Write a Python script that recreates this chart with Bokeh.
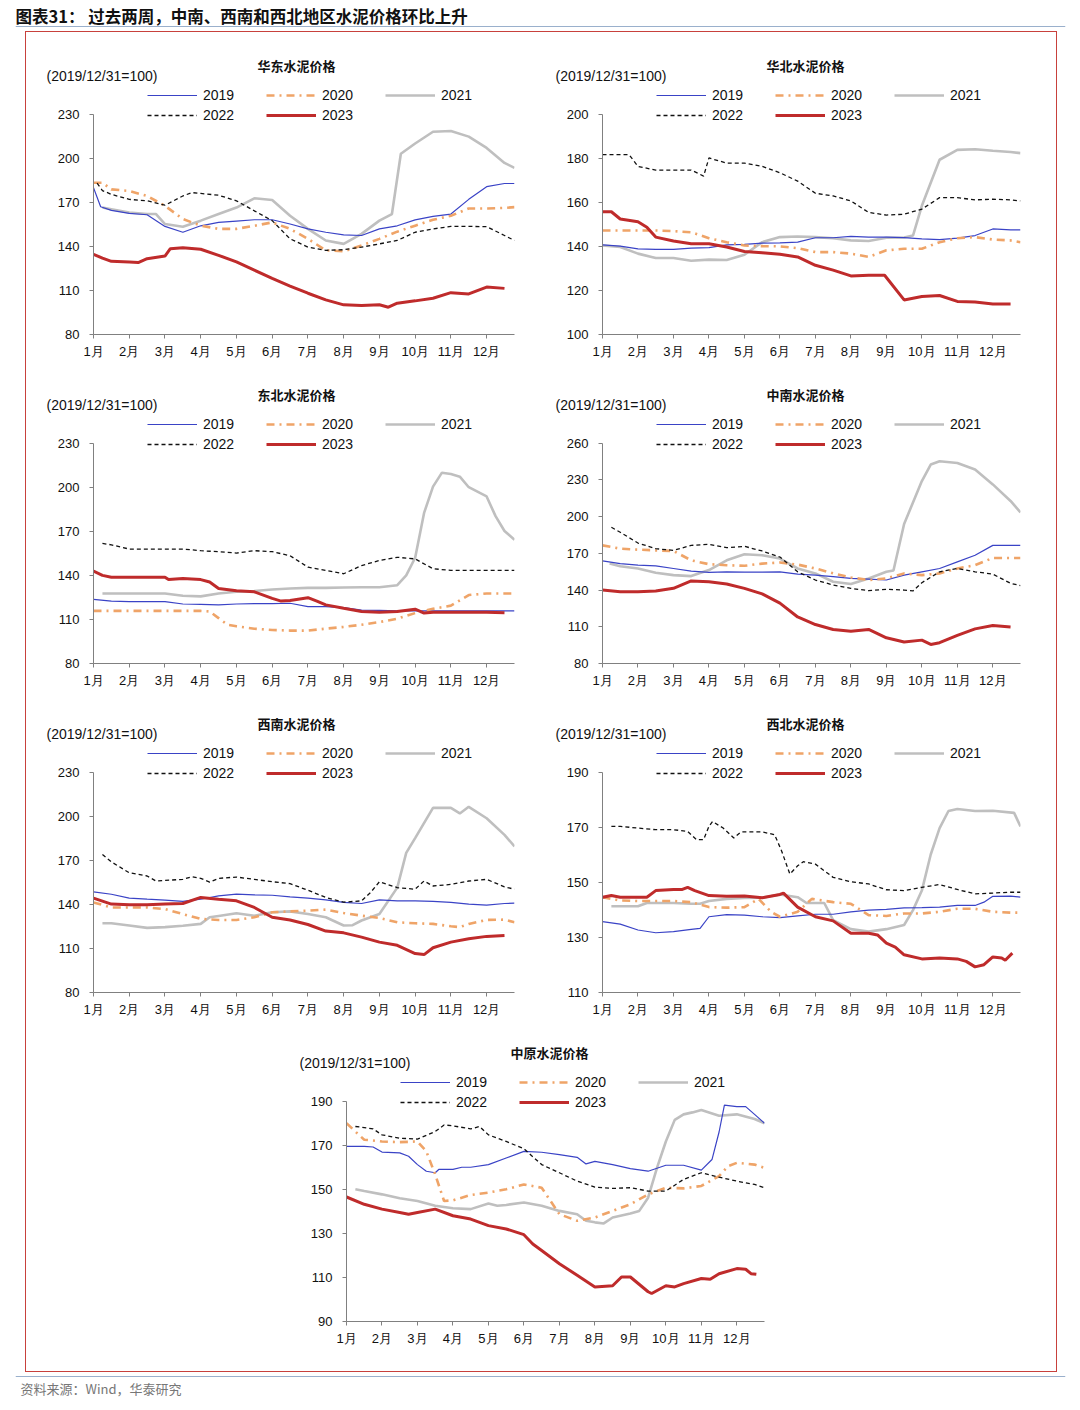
from bokeh.plotting import figure
from bokeh.models import Range1d, FixedTicker, Label, Legend, LegendItem, Spacer, Span
from bokeh.layouts import column, row
from bokeh.embed import file_html
from bokeh.resources import INLINE

# ---------------- data (x = month position, value = index 2019/12/31=100) ----------------
YEARS = ["2019", "2020", "2021", "2022", "2023"]
MONTH_TICKS = [1, 2, 3, 4, 5, 6, 7, 8, 9, 10, 11, 12]
MONTH_LABELS = ["1月", "2月", "3月", "4月", "5月", "6月", "7月", "8月", "9月", "10月", "11月", "12月"]
UNIT_TEXT = "(2019/12/31=100)"
HEADER_TEXT = "图表31： 过去两周，中南、西南和西北地区水泥价格环比上升"
SOURCE_TEXT = "资料来源：Wind，华泰研究"

# 华东
HD_2019 = [(1.0,180),(1.2,167),(1.5,164.5),(2.0,162.4),(2.5,161.5),(3.0,153.6),(3.5,149.6),(4.0,154),(4.5,156.3),(5.0,157.2),(5.5,158.1),(6.0,158.1),(6.5,155.2),(7.0,151.9),(7.5,149.6),(8.0,147.8),(8.5,147.4),(9.0,151.9),(9.5,154),(10.0,158),(10.5,160.4),(11.0,162),(11.5,172),(12.0,180.6),(12.5,182.8),(12.78,182.8)]
HD_2020 = [(1.0,183.3),(1.25,183.3),(1.5,178.8),(2.0,177.7),(2.5,174.3),(3.0,167.6),(3.5,158.6),(4.0,154.1),(4.5,151.9),(5.0,151.9),(5.5,154),(6.0,156.3),(6.5,151.9),(7.0,145.1),(7.5,137.3),(8.0,136.6),(8.5,140.6),(9.0,145.1),(9.5,150),(10.0,154.1),(10.5,158.1),(11.0,160.8),(11.5,165.8),(12.0,165.8),(12.5,166.2),(12.78,166.7)]
HD_2021 = [(1.25,166.4),(1.5,165.3),(2.0,163),(2.5,162),(2.75,162),(3.0,155.2),(3.5,153.4),(4.0,157.5),(4.5,162),(5.0,166.4),(5.5,172.7),(6.0,171.6),(6.5,160.8),(7.0,151.9),(7.5,144),(8.0,141.7),(8.5,148.5),(9.0,157.5),(9.35,162),(9.6,203),(10.0,210),(10.5,218),(11.0,218.5),(11.5,214.7),(12.0,207),(12.5,196.8),(12.78,193.4)]
HD_2022 = [(1.1,183),(1.25,178),(1.5,175.4),(2.0,172),(2.5,171),(3.0,168),(3.5,174.3),(3.75,176.6),(4.0,176),(4.5,174.8),(5.0,171),(5.5,164.2),(6.0,157.5),(6.5,145.1),(7.0,139.5),(7.5,137.3),(8.0,137.7),(8.5,139.5),(9.0,141.7),(9.5,144),(10.0,149.6),(10.5,151.9),(11.0,153.6),(11.5,153.6),(12.0,153.4),(12.5,147.4),(12.78,144)]
HD_2023 = [(1.0,134.6),(1.25,132),(1.5,129.8),(2.0,129.4),(2.25,129),(2.5,131.6),(3.0,133.4),(3.15,138.4),(3.5,139),(4.0,138),(4.5,133.9),(5.0,129.4),(5.5,123.8),(6.0,118.2),(6.5,113),(7.0,108.1),(7.5,103.6),(8.0,100.2),(8.5,99.8),(9.0,100.2),(9.25,98.6),(9.5,101.3),(10.0,102.9),(10.5,104.7),(11.0,108.5),(11.5,107.6),(12.0,112.3),(12.5,111.4)]

# 华北
HB_2019 = [(1.0,140.7),(1.5,140.1),(2.0,138.9),(2.5,138.6),(3.0,138.6),(3.5,139.2),(4.0,139.4),(4.5,140.7),(5.0,140.9),(5.5,141.5),(6.0,141.6),(6.5,141.9),(7.0,143.9),(7.5,143.9),(8.0,144.5),(8.5,144.2),(9.0,144.2),(9.5,144),(10.0,143.4),(10.5,143.1),(11.0,143.7),(11.5,144.9),(12.0,147.9),(12.5,147.5),(12.78,147.5)]
HB_2020 = [(1.0,147.2),(1.5,147.2),(2.0,147.2),(2.5,147.2),(3.0,146.9),(3.5,146.4),(4.0,143.7),(4.5,141.9),(5.0,140.4),(5.5,140.1),(6.0,140),(6.5,139.2),(7.0,137.4),(7.5,137.4),(8.0,136.7),(8.5,135.2),(9.0,138.2),(9.5,138.9),(10.0,138.9),(10.5,141.9),(11.0,143.7),(11.5,144.2),(12.0,143.1),(12.5,142.7),(12.78,141.9)]
HB_2021 = [(1.0,140.4),(1.5,139.7),(2.0,136.7),(2.5,134.7),(3.0,134.7),(3.5,133.5),(4.0,134),(4.5,133.8),(5.0,136.2),(5.5,141.9),(6.0,144.2),(6.5,144.5),(7.0,144.2),(7.5,143.7),(8.0,142.7),(8.5,142.4),(9.0,143.9),(9.5,144),(9.75,144.9),(10.0,158.4),(10.5,179.3),(11.0,183.8),(11.5,184.1),(12.0,183.4),(12.5,182.8),(12.78,182.3)]
HB_2022 = [(1.0,181.6),(1.5,181.6),(1.75,181.6),(2.0,176.3),(2.5,174.6),(3.0,174.6),(3.5,174.6),(3.85,171.9),(4.0,180.1),(4.5,177.8),(5.0,177.8),(5.5,176.3),(6.0,173.4),(6.5,169.6),(7.0,164.1),(7.5,162.9),(8.0,160.6),(8.5,155.4),(9.0,154.2),(9.5,154.6),(10.0,156.9),(10.5,162.1),(11.0,162.1),(11.5,161.1),(12.0,161.4),(12.5,161.1),(12.78,160.6)]
HB_2023 = [(1.0,155.7),(1.25,155.7),(1.5,152.4),(2.0,151.2),(2.25,148.7),(2.5,144.2),(3.0,142.4),(3.5,141.2),(4.0,141.2),(4.5,139.7),(5.0,137.7),(5.5,137.1),(6.0,136.4),(6.5,135.2),(7.0,131.4),(7.5,129.2),(8.0,126.6),(8.5,126.9),(8.95,126.9),(9.5,115.7),(10.0,117.2),(10.5,117.7),(11.0,115),(11.5,114.7),(12.0,113.8),(12.5,113.8)]

# 东北
DB_2019 = [(1.0,123.7),(1.5,122.5),(2.0,122.1),(2.5,122.1),(3.0,122.1),(3.5,120.5),(4.0,120.3),(4.5,119.9),(5.0,120.5),(5.5,120.8),(6.0,120.8),(6.5,121),(7.0,118.7),(7.5,118.7),(8.0,118.1),(8.5,116.3),(9.0,116.1),(9.5,115.8),(10.0,115.8),(11.0,115.8),(12.0,115.8),(12.78,115.8)]
DB_2020 = [(1.0,115.8),(2.0,115.8),(3.0,115.8),(4.0,115.8),(4.25,115.4),(4.5,110.9),(4.75,106.4),(5.0,105.3),(5.5,103.7),(6.0,102.8),(6.5,102.4),(7.0,102.4),(7.5,103.7),(8.0,104.9),(8.5,106.4),(9.0,108.2),(9.5,110.5),(10.0,114.3),(10.5,117.2),(11.0,119.4),(11.5,126.6),(12.0,127.7),(12.5,127.7),(12.78,127.7)]
DB_2021 = [(1.25,127.7),(2.0,127.7),(3.0,127.7),(3.5,126.1),(4.0,125.7),(4.5,127.7),(5.0,128.8),(5.5,129.3),(6.0,130.4),(6.5,131.1),(7.0,131.5),(7.5,131.5),(8.0,131.7),(8.5,131.9),(9.0,131.9),(9.5,133.3),(9.75,140),(10.0,152),(10.25,182.5),(10.5,200.4),(10.75,209.9),(11.0,209),(11.25,207.2),(11.5,200),(12.0,193.7),(12.25,180.3),(12.5,170.2),(12.78,164.2)]
DB_2022 = [(1.25,161.7),(1.5,160.8),(2.0,157.9),(3.0,157.9),(3.5,157.9),(4.0,156.8),(4.5,156.1),(5.0,155.2),(5.5,156.8),(6.0,156.1),(6.5,153.4),(7.0,145.6),(7.5,143.4),(8.0,141.1),(8.5,146.7),(9.0,150.1),(9.5,152.3),(10.0,151.2),(10.5,144.5),(11.0,143.4),(12.0,143.4),(12.78,143.4)]
DB_2023 = [(1.0,142.9),(1.25,140),(1.5,138.7),(2.0,138.7),(3.0,138.7),(3.1,137.1),(3.5,137.8),(4.0,137.1),(4.25,135.5),(4.5,131.1),(5.0,129.5),(5.5,128.8),(6.0,124.3),(6.25,122.5),(6.5,122.9),(7.0,124.8),(7.25,122.5),(7.5,119.9),(8.0,117.6),(8.5,115.4),(9.0,114.9),(9.5,115.4),(10.0,117),(10.25,114.3),(10.5,114.9),(11.0,114.9),(12.0,114.9),(12.5,114.5)]

# 中南
ZN_2019 = [(1.0,163.8),(1.5,161.6),(2.0,160.3),(2.5,159.8),(3.0,157.6),(3.5,155.4),(4.0,154.4),(4.5,154.9),(5.0,154.6),(5.5,154.6),(6.0,154.9),(6.5,153),(7.0,152.2),(7.5,150.9),(8.0,149.5),(8.5,149),(9.0,148.2),(9.5,152.2),(10.0,154.9),(10.5,157.6),(11.0,163),(11.5,168.4),(12.0,176.5),(12.5,176.5),(12.78,176.5)]
ZN_2020 = [(1.0,176.5),(1.5,173.8),(2.0,173),(2.5,172.4),(3.0,171.9),(3.5,164.3),(4.0,161.1),(4.5,160.3),(5.0,159.8),(5.5,161.6),(6.0,162.5),(6.5,160.8),(7.0,157.6),(7.5,153.6),(8.0,150.3),(8.5,148.2),(9.0,149.5),(9.5,153.6),(10.0,152.2),(10.5,153.6),(11.0,157.6),(11.5,160.3),(12.0,166.2),(12.5,166.2),(12.78,166.2)]
ZN_2021 = [(1.2,161.6),(1.5,159.5),(2.0,157.6),(2.5,154.1),(3.0,152.2),(3.5,151.4),(4.0,156.3),(4.5,164.3),(5.0,169.2),(5.5,168.4),(6.0,165.7),(6.5,157.6),(7.0,153.6),(7.5,146.8),(8.0,144.9),(8.5,149.5),(9.0,154.9),(9.2,156),(9.5,194),(10.0,229),(10.25,242.5),(10.5,245.2),(11.0,243.8),(11.5,238.4),(12.0,226.3),(12.5,212.8),(12.78,203.4)]
ZN_2022 = [(1.25,191.3),(1.5,187.2),(2.0,178.4),(2.5,173.8),(3.0,172.4),(3.5,176.5),(4.0,177.3),(4.5,174.6),(5.0,175.7),(5.5,171.9),(6.0,167),(6.5,154.9),(7.0,148.2),(7.5,144.1),(8.0,141.4),(8.5,139.5),(9.0,140.6),(9.5,140),(9.75,139.3),(10.0,146),(10.5,154.9),(11.0,157.6),(11.5,154.9),(12.0,153),(12.5,145.5),(12.78,143.6)]
ZN_2023 = [(1.0,140),(1.5,138.7),(2.0,138.7),(2.5,139.3),(3.0,141.4),(3.5,147.4),(4.0,146.8),(4.5,145),(5.0,141.4),(5.5,136.9),(6.0,129.3),(6.5,118),(7.0,111.8),(7.5,107.8),(8.0,106.4),(8.5,107.8),(9.0,101),(9.5,97.5),(10.0,99.1),(10.25,95.6),(10.5,97),(11.0,102.9),(11.5,108.3),(12.0,111),(12.5,109.9)]

# 西南
XN_2019 = [(1.0,148.5),(1.5,146.9),(2.0,144.2),(2.5,143.5),(3.0,142.9),(3.5,142),(4.0,143.5),(4.5,145.8),(5.0,146.9),(5.5,146.5),(6.0,146.2),(6.5,145.1),(7.0,144.2),(7.5,143.1),(8.0,141.3),(8.5,140.6),(9.0,143.1),(9.5,142.4),(10.0,142.4),(10.5,142),(11.0,141.3),(11.5,140.2),(12.0,139.5),(12.5,140.6),(12.78,140.8)]
XN_2020 = [(1.0,141.3),(1.5,137.9),(2.0,137.9),(2.5,137.9),(3.0,136.8),(3.5,133.4),(4.0,130.1),(4.5,129.4),(5.0,129.4),(5.5,131.2),(6.0,134.6),(6.5,135.2),(7.0,135.7),(7.5,136.4),(8.0,134.1),(8.5,132.3),(9.0,130.7),(9.5,127.8),(10.0,127.1),(10.5,126.7),(11.0,125.1),(11.25,124.5),(11.5,126.7),(12.0,129.4),(12.5,129.6),(12.78,127.8)]
XN_2021 = [(1.25,127.1),(1.5,127.1),(2.0,125.6),(2.5,124),(3.0,124.5),(3.5,125.4),(4.0,126.7),(4.25,131.2),(4.5,132.1),(5.0,133.9),(5.5,132.3),(6.0,134.6),(6.5,135.2),(7.0,133.4),(7.5,131.2),(8.0,125.6),(8.25,125.8),(8.5,129),(9.0,133.4),(9.5,151.4),(9.75,175),(10.0,185.1),(10.5,205.7),(11.0,205.7),(11.25,201.9),(11.5,206.4),(12.0,198.6),(12.5,187.3),(12.78,179.5)]
XN_2022 = [(1.25,173.9),(1.5,168.9),(2.0,161.5),(2.5,159.3),(2.75,155.9),(3.0,156.3),(3.5,157),(3.75,158.8),(4.0,157.7),(4.25,155.2),(4.5,157.7),(5.0,158.6),(5.5,157),(6.0,155.4),(6.5,154.1),(7.0,149.6),(7.5,144.7),(8.0,141.5),(8.5,142.4),(8.75,148),(9.0,155.4),(9.5,151.4),(10.0,150.3),(10.25,155.9),(10.5,152.5),(11.0,153.6),(11.5,155.9),(12.0,157),(12.5,151.9),(12.78,150.3)]
XN_2023 = [(1.0,144.2),(1.5,140.2),(2.0,139.7),(2.5,139.7),(3.0,140.2),(3.5,140.6),(4.0,144.7),(4.5,143.5),(5.0,142.4),(5.5,137.9),(6.0,131.2),(6.5,129.4),(7.0,126.3),(7.5,121.8),(8.0,120.6),(8.5,117.7),(9.0,114.3),(9.5,112.1),(10.0,106.5),(10.25,105.8),(10.5,110.5),(11.0,114.3),(11.5,116.6),(12.0,118.2),(12.5,118.8)]

# 西北
XB_2019 = [(1.0,135.7),(1.5,134.8),(2.0,132.7),(2.5,131.7),(3.0,132.1),(3.5,132.9),(3.75,133.3),(4.0,137.5),(4.5,138.3),(5.0,138.1),(5.5,137.5),(6.0,137.2),(6.5,137.8),(7.0,138.4),(7.5,138.4),(8.0,139.3),(8.5,139.9),(9.0,140.2),(9.5,140.7),(10.0,140.8),(10.5,141),(11.0,141.6),(11.5,141.6),(11.75,142.8),(12.0,144.9),(12.5,145),(12.78,144.6)]
XB_2020 = [(1.0,144.6),(1.5,143.4),(2.0,143.2),(3.0,143.2),(3.5,142.8),(4.0,141),(4.5,140.8),(5.0,141),(5.4,144),(5.75,139.3),(6.0,137.5),(6.5,139.3),(6.9,144),(7.5,142.8),(8.0,142.2),(8.5,138.1),(9.0,137.8),(9.5,138.7),(10.0,138.7),(10.5,139.3),(11.0,140.4),(11.5,140.4),(12.0,139.3),(12.5,139),(12.78,139)]
XB_2021 = [(1.25,141.3),(2.0,141.3),(2.25,142.5),(3.0,142.5),(3.5,142.2),(3.75,142.2),(4.0,143.2),(4.5,144),(5.0,144.3),(5.5,144.4),(6.0,145.6),(6.5,144.6),(6.75,142.5),(7.25,142.5),(7.5,136.3),(8.0,133),(8.5,132.1),(9.0,133),(9.5,134.5),(9.75,139.9),(10.0,147),(10.25,160.1),(10.5,169.7),(10.75,175.9),(11.0,176.6),(11.5,175.9),(12.0,176),(12.6,175.2),(12.78,170.3)]
XB_2022 = [(1.25,170.3),(1.5,170.3),(2.0,169.7),(2.5,169.1),(3.0,169.1),(3.4,168.5),(3.65,165.5),(3.85,165.5),(4.0,170.3),(4.1,172.1),(4.4,169.7),(4.7,166.1),(4.9,168.3),(5.5,168.3),(5.85,167.3),(6.05,161.3),(6.28,153),(6.5,156),(6.66,157.5),(7.0,156.6),(7.5,151.8),(8.0,150.2),(8.5,149.4),(9.0,147.3),(9.5,147),(10.0,148.2),(10.5,149.2),(11.0,147.4),(11.5,145.8),(12.0,146.1),(12.5,146.4),(12.78,146.4)]
XB_2023 = [(1.0,144.6),(1.25,145.2),(1.5,144.6),(2.25,144.6),(2.5,147),(3.0,147.4),(3.25,147.4),(3.4,148.2),(3.6,147),(4.0,145.2),(4.5,144.9),(5.0,145),(5.5,144.4),(6.0,145.6),(6.1,146.1),(6.5,141),(7.0,137.5),(7.5,136),(8.0,131.5),(8.5,131.5),(8.75,130.9),(9.0,127.9),(9.25,126.5),(9.5,123.7),(10.0,122.2),(10.5,122.5),(11.0,122.2),(11.25,121.3),(11.5,119.3),(11.75,120.1),(12.0,122.9),(12.25,122.5),(12.35,121.7),(12.55,124.3)]

# 中原
ZY_2019 = [(1.0,169.5),(1.5,169.5),(1.75,169.2),(2.0,166.9),(2.5,166.5),(2.75,165),(3.0,161.2),(3.25,158.2),(3.5,157.5),(3.6,159),(4.0,159),(4.25,160),(4.5,160),(5.0,161.2),(5.5,164.2),(6.0,167.2),(6.5,166.8),(7.0,165.7),(7.5,164.5),(7.75,161.5),(8.0,162.7),(8.5,161.2),(9.0,159.4),(9.5,158.2),(10.0,160.9),(10.5,160.9),(11.0,158.7),(11.3,163.5),(11.5,176),(11.65,188.2),(12.0,187.5),(12.25,187.5),(12.5,184),(12.78,180)]
ZY_2020 = [(1.0,180),(1.25,176.2),(1.5,172.5),(2.0,171.7),(2.5,171.4),(3.0,171.7),(3.25,167.2),(3.5,156.7),(3.75,144.7),(4.0,145),(4.5,147.4),(5.0,148.5),(5.5,150),(6.0,152.2),(6.5,150.7),(7.0,138.7),(7.5,135.7),(8.0,137.2),(8.5,140.2),(9.0,143.2),(9.5,147.7),(10.0,150.7),(10.5,150.4),(11.0,151.5),(11.5,156),(11.75,160.5),(12.0,162),(12.5,161.2),(12.78,159.7)]
ZY_2021 = [(1.25,150),(1.5,149.2),(2.0,147.7),(2.5,145.9),(3.0,144.7),(3.5,142.5),(4.0,141.4),(4.5,141),(5.0,143.5),(5.25,142.5),(5.5,142.9),(6.0,144),(6.5,142.5),(7.0,140.2),(7.5,138.7),(7.75,135.7),(8.0,135),(8.25,134.5),(8.5,137.2),(9.0,139),(9.25,140.2),(9.5,146.2),(9.75,159.7),(10.0,171.7),(10.25,181.5),(10.5,184),(10.75,184.9),(11.0,186),(11.5,183.4),(12.0,184),(12.5,181.9),(12.78,180)]
ZY_2022 = [(1.25,178.5),(1.5,178),(1.75,177.4),(2.0,174.7),(2.5,173.2),(3.0,172.8),(3.5,176.2),(3.75,179.2),(4.0,178.8),(4.5,177.4),(4.75,178.5),(5.0,174.7),(5.5,171.7),(6.0,168.4),(6.5,161.2),(7.0,157.5),(7.5,153.7),(8.0,151),(8.5,150.4),(9.0,150.7),(9.5,149.2),(10.0,149.2),(10.5,154.5),(11.0,157.5),(11.5,155.5),(12.0,153.7),(12.5,152.2),(12.78,150.7)]
ZY_2023 = [(1.0,146.5),(1.5,143.2),(2.0,141),(2.5,139.5),(2.75,138.7),(3.0,139.5),(3.5,141),(4.0,138),(4.5,136.5),(5.0,133.5),(5.5,132),(6.0,129.4),(6.25,125.2),(6.5,122.2),(7.0,116.2),(7.5,111),(8.0,105.7),(8.5,106.2),(8.75,110.2),(9.0,110.2),(9.5,103.5),(9.6,102.7),(10.0,106.2),(10.25,105.7),(10.5,107.2),(11.0,109.5),(11.25,109.2),(11.5,111.7),(12.0,114),(12.25,113.7),(12.4,111.7),(12.55,111.4)]

REGION_TITLES = ["华东水泥价格", "华北水泥价格", "东北水泥价格", "中南水泥价格", "西南水泥价格", "西北水泥价格", "中原水泥价格"]
REGION_SERIES = [
    [HD_2019, HD_2020, HD_2021, HD_2022, HD_2023],
    [HB_2019, HB_2020, HB_2021, HB_2022, HB_2023],
    [DB_2019, DB_2020, DB_2021, DB_2022, DB_2023],
    [ZN_2019, ZN_2020, ZN_2021, ZN_2022, ZN_2023],
    [XN_2019, XN_2020, XN_2021, XN_2022, XN_2023],
    [XB_2019, XB_2020, XB_2021, XB_2022, XB_2023],
    [ZY_2019, ZY_2020, ZY_2021, ZY_2022, ZY_2023],
]
Y_RANGES = [(80, 230, 30), (100, 200, 20), (80, 230, 30), (80, 260, 30), (80, 230, 30), (110, 190, 20), (90, 190, 20)]

# ---------------- styles / geometry ----------------
STYLE = {
    "2019": dict(line_color="#3A43C6", line_width=1.2),
    "2020": dict(line_color="#EFA468", line_width=2.6, line_dash="8 5 2 5"),
    "2021": dict(line_color="#BFBFBF", line_width=2.6),
    "2022": dict(line_color="#111111", line_width=1.3, line_dash="4 3"),
    "2023": dict(line_color="#BF2B2B", line_width=3.0),
}
DRAW_ORDER = [2, 0, 1, 3, 4]
LATIN = "Liberation Sans"
CJK = "Noto Sans CJK SC"
AXIS_COLOR = "#808080"
TEXT_COLOR = "#111111"

DATA_H = 223      # px between lowest and highest y tick
EXT_PX = 30       # frame extension above the top tick (legend area)
BOTTOM_PX = 24    # x-axis labels area
STRIP_H = 52      # strip above each row holding titles + unit labels
CONTENT_W = 1030
LEFT_W, RIGHT_W = 514, 516
LEFT_ML, LEFT_MR = 67, 26
RIGHT_ML, RIGHT_MR = 62, 36
BOTTOM_ML, BOTTOM_MR = 320, 292


def make_panel(idx, width, ml, mr):
    y0, y1, step = Y_RANGES[idx]
    ext = EXT_PX * (y1 - y0) / DATA_H
    height = EXT_PX + DATA_H + BOTTOM_PX
    p = figure(width=width, height=height, x_range=Range1d(1, 12.78), y_range=Range1d(y0, y1 + ext),
               output_backend="svg", toolbar_location=None,
               min_border_left=ml, min_border_right=mr, min_border_top=0, min_border_bottom=BOTTOM_PX)
    p.outline_line_color = None
    p.grid.visible = False
    p.background_fill_color = "white"
    p.border_fill_color = "white"

    p.xaxis.ticker = FixedTicker(ticks=MONTH_TICKS)
    p.xaxis.major_label_overrides = {t: lab for t, lab in zip(MONTH_TICKS, MONTH_LABELS)}
    p.yaxis.ticker = FixedTicker(ticks=list(range(y0, y1 + 1, step)))
    p.yaxis.bounds = (y0, y1)
    for ax in (p.xaxis[0], p.yaxis[0]):
        ax.axis_line_color = AXIS_COLOR
        ax.major_tick_line_color = AXIS_COLOR
        ax.minor_tick_line_color = None
        ax.major_tick_in = 0
        ax.major_tick_out = 4
        ax.major_label_text_font = LATIN
        ax.major_label_text_font_size = "13px"
        ax.major_label_text_color = TEXT_COLOR
    p.xaxis.major_label_standoff = 5
    p.yaxis.major_label_standoff = 10

    series = REGION_SERIES[idx]
    renderers = {}
    for k in DRAW_ORDER:
        pts = series[k]
        xs = [a for a, _ in pts]
        ys = [b for _, b in pts]
        renderers[k] = p.line(xs, ys, **STYLE[YEARS[k]])

    frame_h = EXT_PX + DATA_H
    items = [LegendItem(label=YEARS[k], renderers=[renderers[k]]) for k in range(5)]
    legend = Legend(items=items, location=(54, frame_h - 44), orientation="horizontal", ncols=3,
                    glyph_width=50, glyph_height=20, label_height=20, label_width=63, label_standoff=6,
                    spacing=0, padding=0, margin=0, border_line_color=None, background_fill_alpha=0,
                    label_text_font=LATIN, label_text_font_size="14px", label_text_color=TEXT_COLOR)
    p.add_layout(legend)
    return p


def make_strip(entries, height=STRIP_H):
    s = figure(width=CONTENT_W, height=height, x_range=Range1d(0, CONTENT_W), y_range=Range1d(0, height),
               x_axis_type=None, y_axis_type=None, output_backend="svg", toolbar_location=None,
               min_border=0)
    s.outline_line_color = None
    s.grid.visible = False
    for frame_left, idx in entries:
        s.add_layout(Label(x=frame_left + 203, y=height - 33, text=REGION_TITLES[idx], text_align="center",
                           text_baseline="middle", text_font=CJK, text_font_size="13px",
                           text_font_style="bold", text_color=TEXT_COLOR))
        s.add_layout(Label(x=frame_left - 47, y=height - 43, text=UNIT_TEXT, text_align="left",
                           text_baseline="middle", text_font=LATIN, text_font_size="14px", text_color=TEXT_COLOR))
    return s


rows = []
for left_idx, right_idx in [(0, 1), (2, 3), (4, 5)]:
    rows.append(row(make_strip([(LEFT_ML, left_idx), (LEFT_W + RIGHT_ML, right_idx)])))
    rows.append(row(make_panel(left_idx, LEFT_W, LEFT_ML, LEFT_MR),
                    make_panel(right_idx, RIGHT_W, RIGHT_ML, RIGHT_MR)))
rows.append(row(make_strip([(BOTTOM_ML, 6)])))
rows.append(row(make_panel(6, CONTENT_W, BOTTOM_ML, BOTTOM_MR)))
rows.append(Spacer(height=23))

# header
header = figure(width=1064, height=31, x_range=Range1d(0, 1050), y_range=Range1d(0, 31),
                x_axis_type=None, y_axis_type=None, output_backend="svg", toolbar_location=None,
                min_border_left=7, min_border_right=7, min_border_top=0, min_border_bottom=0)
header.outline_line_color = None
header.grid.visible = False
header.add_layout(Label(x=0, y=16, text=HEADER_TEXT, text_align="left", text_baseline="middle",
                        text_font=CJK, text_font_size="16.5px", text_font_style="bold", text_color=TEXT_COLOR))
header.add_layout(Span(location=5, dimension="width", line_color="#9AB0CC", line_width=1))

# footer
footer = figure(width=1064, height=32, x_range=Range1d(0, 1050), y_range=Range1d(0, 32),
                x_axis_type=None, y_axis_type=None, output_backend="svg", toolbar_location=None,
                min_border_left=7, min_border_right=7, min_border_top=0, min_border_bottom=0)
footer.outline_line_color = None
footer.grid.visible = False
footer.add_layout(Span(location=28, dimension="width", line_color="#9AB0CC", line_width=1))
footer.add_layout(Label(x=5, y=16, text=SOURCE_TEXT, text_align="left", text_baseline="middle",
                        text_font=CJK, text_font_size="13px", text_color="#777777"))

boxed = column(*rows, styles={"border": "1px solid #C8413C"})
page = column(header, row(Spacer(width=17), boxed), footer)
layout = row(Spacer(width=8), page)

open("out.html", "w").write(file_html(layout, INLINE))
